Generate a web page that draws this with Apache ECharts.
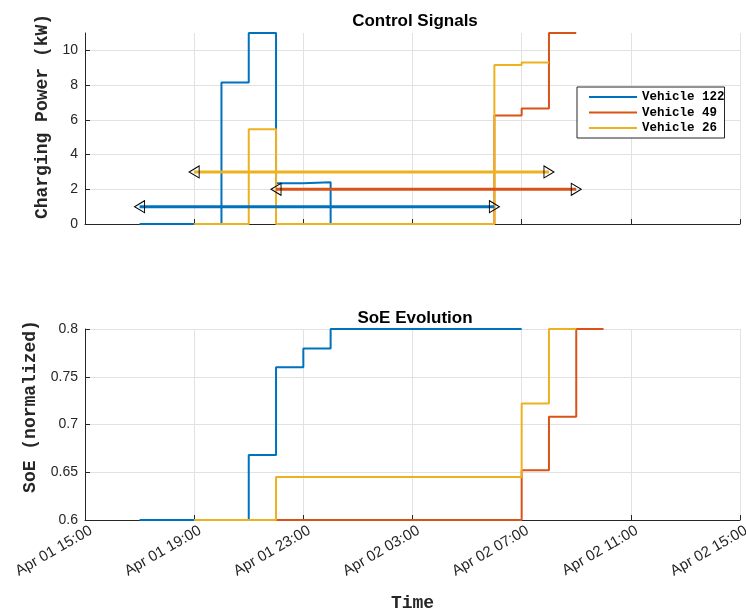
<!DOCTYPE html>
<html>
<head>
<meta charset="utf-8">
<script src="https://cdn.jsdelivr.net/npm/echarts@6/dist/echarts.min.js"></script>
<style>html,body{margin:0;padding:0;background:#fff;}#c{width:746px;height:612px;}</style>
</head>
<body>
<div id="c"></div>
<script>
// ---- data ----
const xTickLabels = ['Apr 01 15:00','Apr 01 19:00','Apr 01 23:00','Apr 02 03:00','Apr 02 07:00','Apr 02 11:00','Apr 02 15:00'];
const seriesNames = ['Vehicle 122','Vehicle 49','Vehicle 26'];
const colors = ['#0072BD','#D95319','#EDB120'];

// Vehicle 122
const powerTimes122 = ['04-01 17:00','04-01 18:00','04-01 19:00','04-01 20:00','04-01 21:00','04-01 22:00','04-01 23:00','04-02 00:00','04-02 01:00','04-02 02:00','04-02 03:00','04-02 04:00','04-02 05:00','04-02 06:00'];
const power122 = [0,0,0,8.15,11,2.35,2.4,0,0,0,0,0,0,0];
const soeTimes122 = ['04-01 17:00','04-01 18:00','04-01 19:00','04-01 20:00','04-01 21:00','04-01 22:00','04-01 23:00','04-02 00:00','04-02 01:00','04-02 02:00','04-02 03:00','04-02 04:00','04-02 05:00','04-02 06:00','04-02 07:00'];
const soe122 = [0.6,0.6,0.6,0.6,0.668,0.760,0.7795,0.8,0.8,0.8,0.8,0.8,0.8,0.8,0.8];

// Vehicle 49
const powerTimes49 = ['04-01 22:00','04-01 23:00','04-02 00:00','04-02 01:00','04-02 02:00','04-02 03:00','04-02 04:00','04-02 05:00','04-02 06:00','04-02 07:00','04-02 08:00','04-02 09:00'];
const power49 = [0,0,0,0,0,0,0,0,6.25,6.65,11,11];
const soeTimes49 = ['04-01 22:00','04-01 23:00','04-02 00:00','04-02 01:00','04-02 02:00','04-02 03:00','04-02 04:00','04-02 05:00','04-02 06:00','04-02 07:00','04-02 08:00','04-02 09:00','04-02 10:00'];
const soe49 = [0.6,0.6,0.6,0.6,0.6,0.6,0.6,0.6,0.6,0.652,0.708,0.8,0.8];

// Vehicle 26
const powerTimes26 = ['04-01 19:00','04-01 20:00','04-01 21:00','04-01 22:00','04-01 23:00','04-02 00:00','04-02 01:00','04-02 02:00','04-02 03:00','04-02 04:00','04-02 05:00','04-02 06:00','04-02 07:00','04-02 08:00'];
const power26 = [0,0,5.45,0,0,0,0,0,0,0,0,9.15,9.3,9.3];
const soeTimes26 = ['04-01 19:00','04-01 20:00','04-01 21:00','04-01 22:00','04-01 23:00','04-02 00:00','04-02 01:00','04-02 02:00','04-02 03:00','04-02 04:00','04-02 05:00','04-02 06:00','04-02 07:00','04-02 08:00','04-02 09:00'];
const soe26 = [0.6,0.6,0.6,0.645,0.645,0.645,0.645,0.645,0.645,0.645,0.645,0.645,0.722,0.8,0.8];

// Charging windows (arrows): [start, end], level
const window122 = ['04-01 17:00','04-02 06:00']; const level122 = 1;
const window49  = ['04-01 22:00','04-02 09:00']; const level49 = 2;
const window26  = ['04-01 19:00','04-02 08:00']; const level26 = 3;

// ---- helpers ----
function toH(s){ const day = +s.slice(3,5), hh = +s.slice(6,8); return (day-1)*24 + hh - 15; }
function pairs(times, vals){ return times.map((t,i)=>[toH(t), vals[i]]); }

const AX = '#262626', GRID = '#e2e2e2';
function monoBold(pad){ return {fontFamily:'Liberation Mono', fontWeight:'bold', fontSize:18, color:'#262626', padding:pad}; }

function stair(name, color, xi, data){
  return {name, type:'line', step:'end', xAxisIndex:xi, yAxisIndex:xi, data,
    symbol:'none', lineStyle:{color, width:2}, itemStyle:{color}, animation:false, silent:true, z:3};
}
function arrow(name, color, win, level){
  return {name, type:'line', xAxisIndex:0, yAxisIndex:0,
    data:[{value:[toH(win[0]), level], symbolRotate:90},{value:[toH(win[1]), level], symbolRotate:-90}],
    symbol:'triangle', symbolSize:[12,10], showSymbol:true, showAllSymbol:true,
    lineStyle:{color, width:3}, itemStyle:{color:'rgba(0,0,0,0)', borderColor:'#000', borderWidth:1},
    animation:false, silent:true, z:4};
}

const xCommon = {type:'value', min:0, max:24, interval:4,
  axisLine:{show:true, lineStyle:{color:AX}}, axisTick:{show:true, inside:true, length:5, lineStyle:{color:AX}},
  splitLine:{show:true, lineStyle:{color:GRID}}};
const yCommon = {type:'value', axisLine:{show:true, lineStyle:{color:AX}},
  axisTick:{show:true, inside:true, length:5, lineStyle:{color:AX}},
  nameLocation:'middle', nameRotate:90};
const yLabel = {fontFamily:'Liberation Sans', fontSize:14, color:AX, margin:7};

const chart = echarts.init(document.getElementById('c'), null, {renderer:'canvas'});
chart.setOption({
  backgroundColor:'#fff',
  animation:false,
  title:[
    {text:'Control Signals', left:410, top:8, textAlign:'center', textStyle:{fontFamily:'Liberation Sans', fontWeight:'bold', fontSize:17, color:'#000'}},
    {text:'SoE Evolution', left:410, top:305, textAlign:'center', textStyle:{fontFamily:'Liberation Sans', fontWeight:'bold', fontSize:17, color:'#000'}}
  ],
  grid:[
    {left:85, top:33, width:655, height:191, containLabel:false, outerBoundsMode:'none'},
    {left:85, top:329, width:655, height:191, containLabel:false, outerBoundsMode:'none'}
  ],
  xAxis:[
    Object.assign({}, xCommon, {gridIndex:0, axisLabel:{show:false}}),
    Object.assign({}, xCommon, {gridIndex:1,
      axisLabel:{show:true, rotate:30, margin:13, padding:[0,-7,0,0], fontFamily:'Liberation Sans', fontSize:15, color:AX,
        formatter:v=>xTickLabels[Math.round(v/4)]},
      name:'Time', nameLocation:'middle', nameGap:74, nameTextStyle:monoBold(0)})
  ],
  yAxis:[
    Object.assign({}, yCommon, {gridIndex:0, min:0, max:11, interval:2,
      axisLabel:Object.assign({showMaxLabel:false}, yLabel),
      splitLine:{show:true, lineStyle:{color:[GRID,GRID,GRID,GRID,GRID,GRID,'rgba(0,0,0,0)']}},
      name:'Charging Power (kW)', nameGap:28, nameTextStyle:monoBold([0,0,0,24])}),
    Object.assign({}, yCommon, {gridIndex:1, min:0.6, max:0.8, interval:0.05,
      axisLabel:yLabel, splitLine:{show:true, lineStyle:{color:GRID}},
      name:'SoE (normalized)', nameGap:41, nameTextStyle:monoBold([0,0,0,36])})
  ],
  legend:{
    data:seriesNames, orient:'vertical', left:577, top:87,
    backgroundColor:'#fff', borderColor:AX, borderWidth:1, borderRadius:0,
    padding:[3,0,3,12], itemGap:1.5, itemWidth:48, itemHeight:2, icon:'rect',
    textStyle:{fontFamily:'Liberation Mono', fontWeight:'bold', fontSize:12.5, color:'#000', lineHeight:14},
    selectedMode:false
  },
  series:[
    stair(seriesNames[0], colors[0], 0, pairs(powerTimes122, power122)),
    stair(seriesNames[1], colors[1], 0, pairs(powerTimes49, power49)),
    stair(seriesNames[2], colors[2], 0, pairs(powerTimes26, power26)),
    arrow('win122', colors[0], window122, level122),
    arrow('win49', colors[1], window49, level49),
    arrow('win26', colors[2], window26, level26),
    stair(seriesNames[0], colors[0], 1, pairs(soeTimes122, soe122)),
    stair(seriesNames[1], colors[1], 1, pairs(soeTimes49, soe49)),
    stair(seriesNames[2], colors[2], 1, pairs(soeTimes26, soe26))
  ]
});
</script>
</body>
</html>
